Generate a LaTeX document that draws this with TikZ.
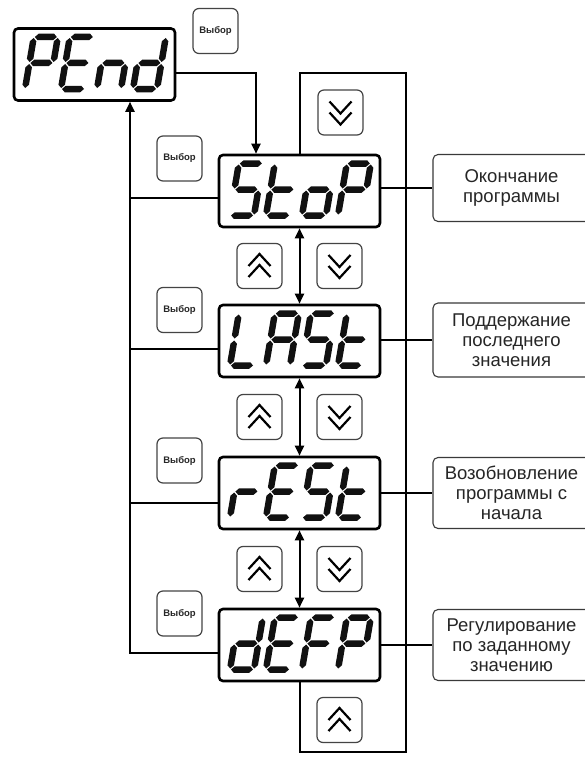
\documentclass[tikz,border=0pt]{standalone}
\usepackage{fontspec}
\setmainfont{Liberation Sans}
\usetikzlibrary{arrows.meta}
\definecolor{segcol}{HTML}{111111}
\definecolor{btncol}{HTML}{444444}
\definecolor{boxcol}{HTML}{3A3A3A}
\definecolor{textcol}{HTML}{262626}
% seven-segment pieces (char frame: width 24, height 52, half-thickness 3.25, slanted scope)
\def\Sega{\fill[segcol] (1,52)--(4.25,55.25)--(19.75,55.25)--(23,52)--(19.75,48.75)--(4.25,48.75)--cycle;}
\def\Segg{\fill[segcol] (1,26)--(4.25,29.25)--(19.75,29.25)--(23,26)--(19.75,22.75)--(4.25,22.75)--cycle;}
\def\Segd{\fill[segcol] (1,0)--(4.25,3.25)--(19.75,3.25)--(23,0)--(19.75,-3.25)--(4.25,-3.25)--cycle;}
\def\Segb{\fill[segcol] (24,27)--(27.25,30.25)--(27.25,47.75)--(24,51)--(20.75,47.75)--(20.75,30.25)--cycle;}
\def\Segc{\fill[segcol] (24,1)--(27.25,4.25)--(27.25,21.75)--(24,25)--(20.75,21.75)--(20.75,4.25)--cycle;}
\def\Sege{\fill[segcol] (0,1)--(3.25,4.25)--(3.25,21.75)--(0,25)--(-3.25,21.75)--(-3.25,4.25)--cycle;}
\def\Segf{\fill[segcol] (0,27)--(3.25,30.25)--(3.25,47.75)--(0,51)--(-3.25,47.75)--(-3.25,30.25)--cycle;}
\def\chP{a,b,e,f,g}
\def\chE{a,d,e,f,g}
\def\chn{c,e,g}
\def\chd{b,c,d,e,g}
\def\chS{a,c,d,f,g}
\def\cht{d,e,f,g}
\def\cho{c,d,e,g}
\def\chL{d,e,f}
\def\chA{a,b,c,e,f,g}
\def\chr{e,g}
\def\chF{a,e,f,g}
\newcommand{\segchar}[3]{%
  \begin{scope}[shift={({#1},{#2})}, x={(1pt,0pt)}, y={(0.17pt,1pt)}]
    \foreach \s in #3 {\csname Seg\s\endcsname}
  \end{scope}}
\newcommand{\dispchars}[6]{%
  \segchar{#1+11}{#2-11.5}{#3}%
  \segchar{#1+47}{#2-11.5}{#4}%
  \segchar{#1+83}{#2-11.5}{#5}%
  \segchar{#1+119}{#2-11.5}{#6}}
\begin{document}
\begin{tikzpicture}[x=1pt,y=-1pt,
  disp/.style={draw, fill=white, line width=2.6pt, rounded corners=4pt, minimum width=161pt, minimum height=72pt, inner sep=0pt},
  btn/.style={draw=btncol, fill=white, line width=1.2pt, rounded corners=6pt, minimum width=45pt, minimum height=45pt, inner sep=0pt, font=\fontsize{9.5}{11}\selectfont\bfseries, text=textcol},
  tbox/.style={draw=boxcol, fill=white, line width=1.1pt, rounded corners=5pt, minimum width=157pt, align=center, font=\fontsize{18.5}{20}\selectfont, text=textcol, inner sep=0pt},
  wire/.style={line width=2pt, black},
  tip/.style={-{Triangle[length=10pt,width=9pt]}},
  dtip/.style={{Triangle[length=10pt,width=9pt]}-{Triangle[length=10pt,width=9pt]}},
  chev/.style={line width=2.2pt, black},
  pics/chevup/.style={code={
    \draw[chev] (-11,0)--(0,-12)--(11,0);
    \draw[chev] (-11,11)--(0,-1)--(11,11);}},
  pics/chevdown/.style={code={
    \draw[chev] (-11,0)--(0,12)--(11,0);
    \draw[chev] (-11,-11)--(0,1)--(11,-11);}}
]
\fill[white] (0,0) rectangle (584,760);
\useasboundingbox (0,0) rectangle (584,760);

% displays
\node[disp] (pend) at (94.5,64.5) {};
\node[disp] (stop) at (299.5,191) {};
\node[disp] (last) at (299.5,341) {};
\node[disp] (rest) at (299.5,493) {};
\node[disp] (defp) at (299.5,645) {};
\dispchars{14}{100.5}{\chP}{\chE}{\chn}{\chd}
\dispchars{219}{227}{\chS}{\cht}{\cho}{\chP}
\dispchars{219}{377}{\chL}{\chA}{\chS}{\cht}
\dispchars{219}{529}{\chr}{\chE}{\chS}{\cht}
\dispchars{219}{681}{\chd}{\chE}{\chF}{\chP}

% select buttons
\node[btn] (vb0) at (215.5,31) {Выбор};
\node[btn] (vb1) at (179.5,158.5) {Выбор};
\node[btn] (vb2) at (179.5,310) {Выбор};
\node[btn] (vb3) at (179.5,460.5) {Выбор};
\node[btn] (vb4) at (179.5,613.5) {Выбор};

% up / down buttons
\node[btn] (dn0) at (340.5,112.5) {};
\node[btn] (up1) at (259.5,266) {};
\node[btn] (dn1) at (339.5,266) {};
\node[btn] (up2) at (259.5,417) {};
\node[btn] (dn2) at (339.5,417) {};
\node[btn] (up3) at (259.5,569) {};
\node[btn] (dn3) at (339.5,569) {};
\node[btn] (up4) at (339.5,720) {};
\pic at (dn0) {chevdown};
\pic at (up1) {chevup};
\pic at (dn1) {chevdown};
\pic at (up2) {chevup};
\pic at (dn2) {chevdown};
\pic at (up3) {chevup};
\pic at (dn3) {chevdown};
\pic at (up4) {chevup};

% text boxes
\node[tbox, minimum height=67pt] (t1) at (511.5,188) {Окончание\\программы};
\node[tbox, minimum height=74pt] (t2) at (511.5,340) {Поддержание\\последнего\\значения};
\node[tbox, minimum height=71pt] (t3) at (511.5,493) {Возобновление\\программы с\\начала};
\node[tbox, minimum height=71pt] (t4) at (511.5,645) {Регулирование\\по заданному\\значению};

% coordinates
\coordinate (pe) at (256,73);
\coordinate (looptr) at (406,73);
\coordinate (loopbr) at (406,752);
\coordinate (l1) at (130,198);
\coordinate (l2) at (130,349);
\coordinate (l3) at (130,503);
\coordinate (l4) at (130,653);

% connectors
\draw[wire, tip] (pe -| pend.east) -- (pe) -- (pe |- stop.north);
\draw[wire] (defp.south) |- (loopbr) -- (looptr) -| (stop.north);
\draw[wire, dtip] (stop.south) -- (last.north);
\draw[wire, dtip] (last.south) -- (rest.north);
\draw[wire, dtip] (rest.south) -- (defp.north);
\draw[wire] (l1) -- (l1 -| stop.west);
\draw[wire] (l2) -- (l2 -| last.west);
\draw[wire] (l3) -- (l3 -| rest.west);
\draw[wire, tip] (l4 -| defp.west) -- (l4) -- (l4 |- pend.south);
\draw[wire] (t1.west -| stop.east) -- (t1.west);
\draw[wire] (t2.west -| last.east) -- (t2.west);
\draw[wire] (t3.west -| rest.east) -- (t3.west);
\draw[wire] (t4.west -| defp.east) -- (t4.west);
\end{tikzpicture}
\end{document}
